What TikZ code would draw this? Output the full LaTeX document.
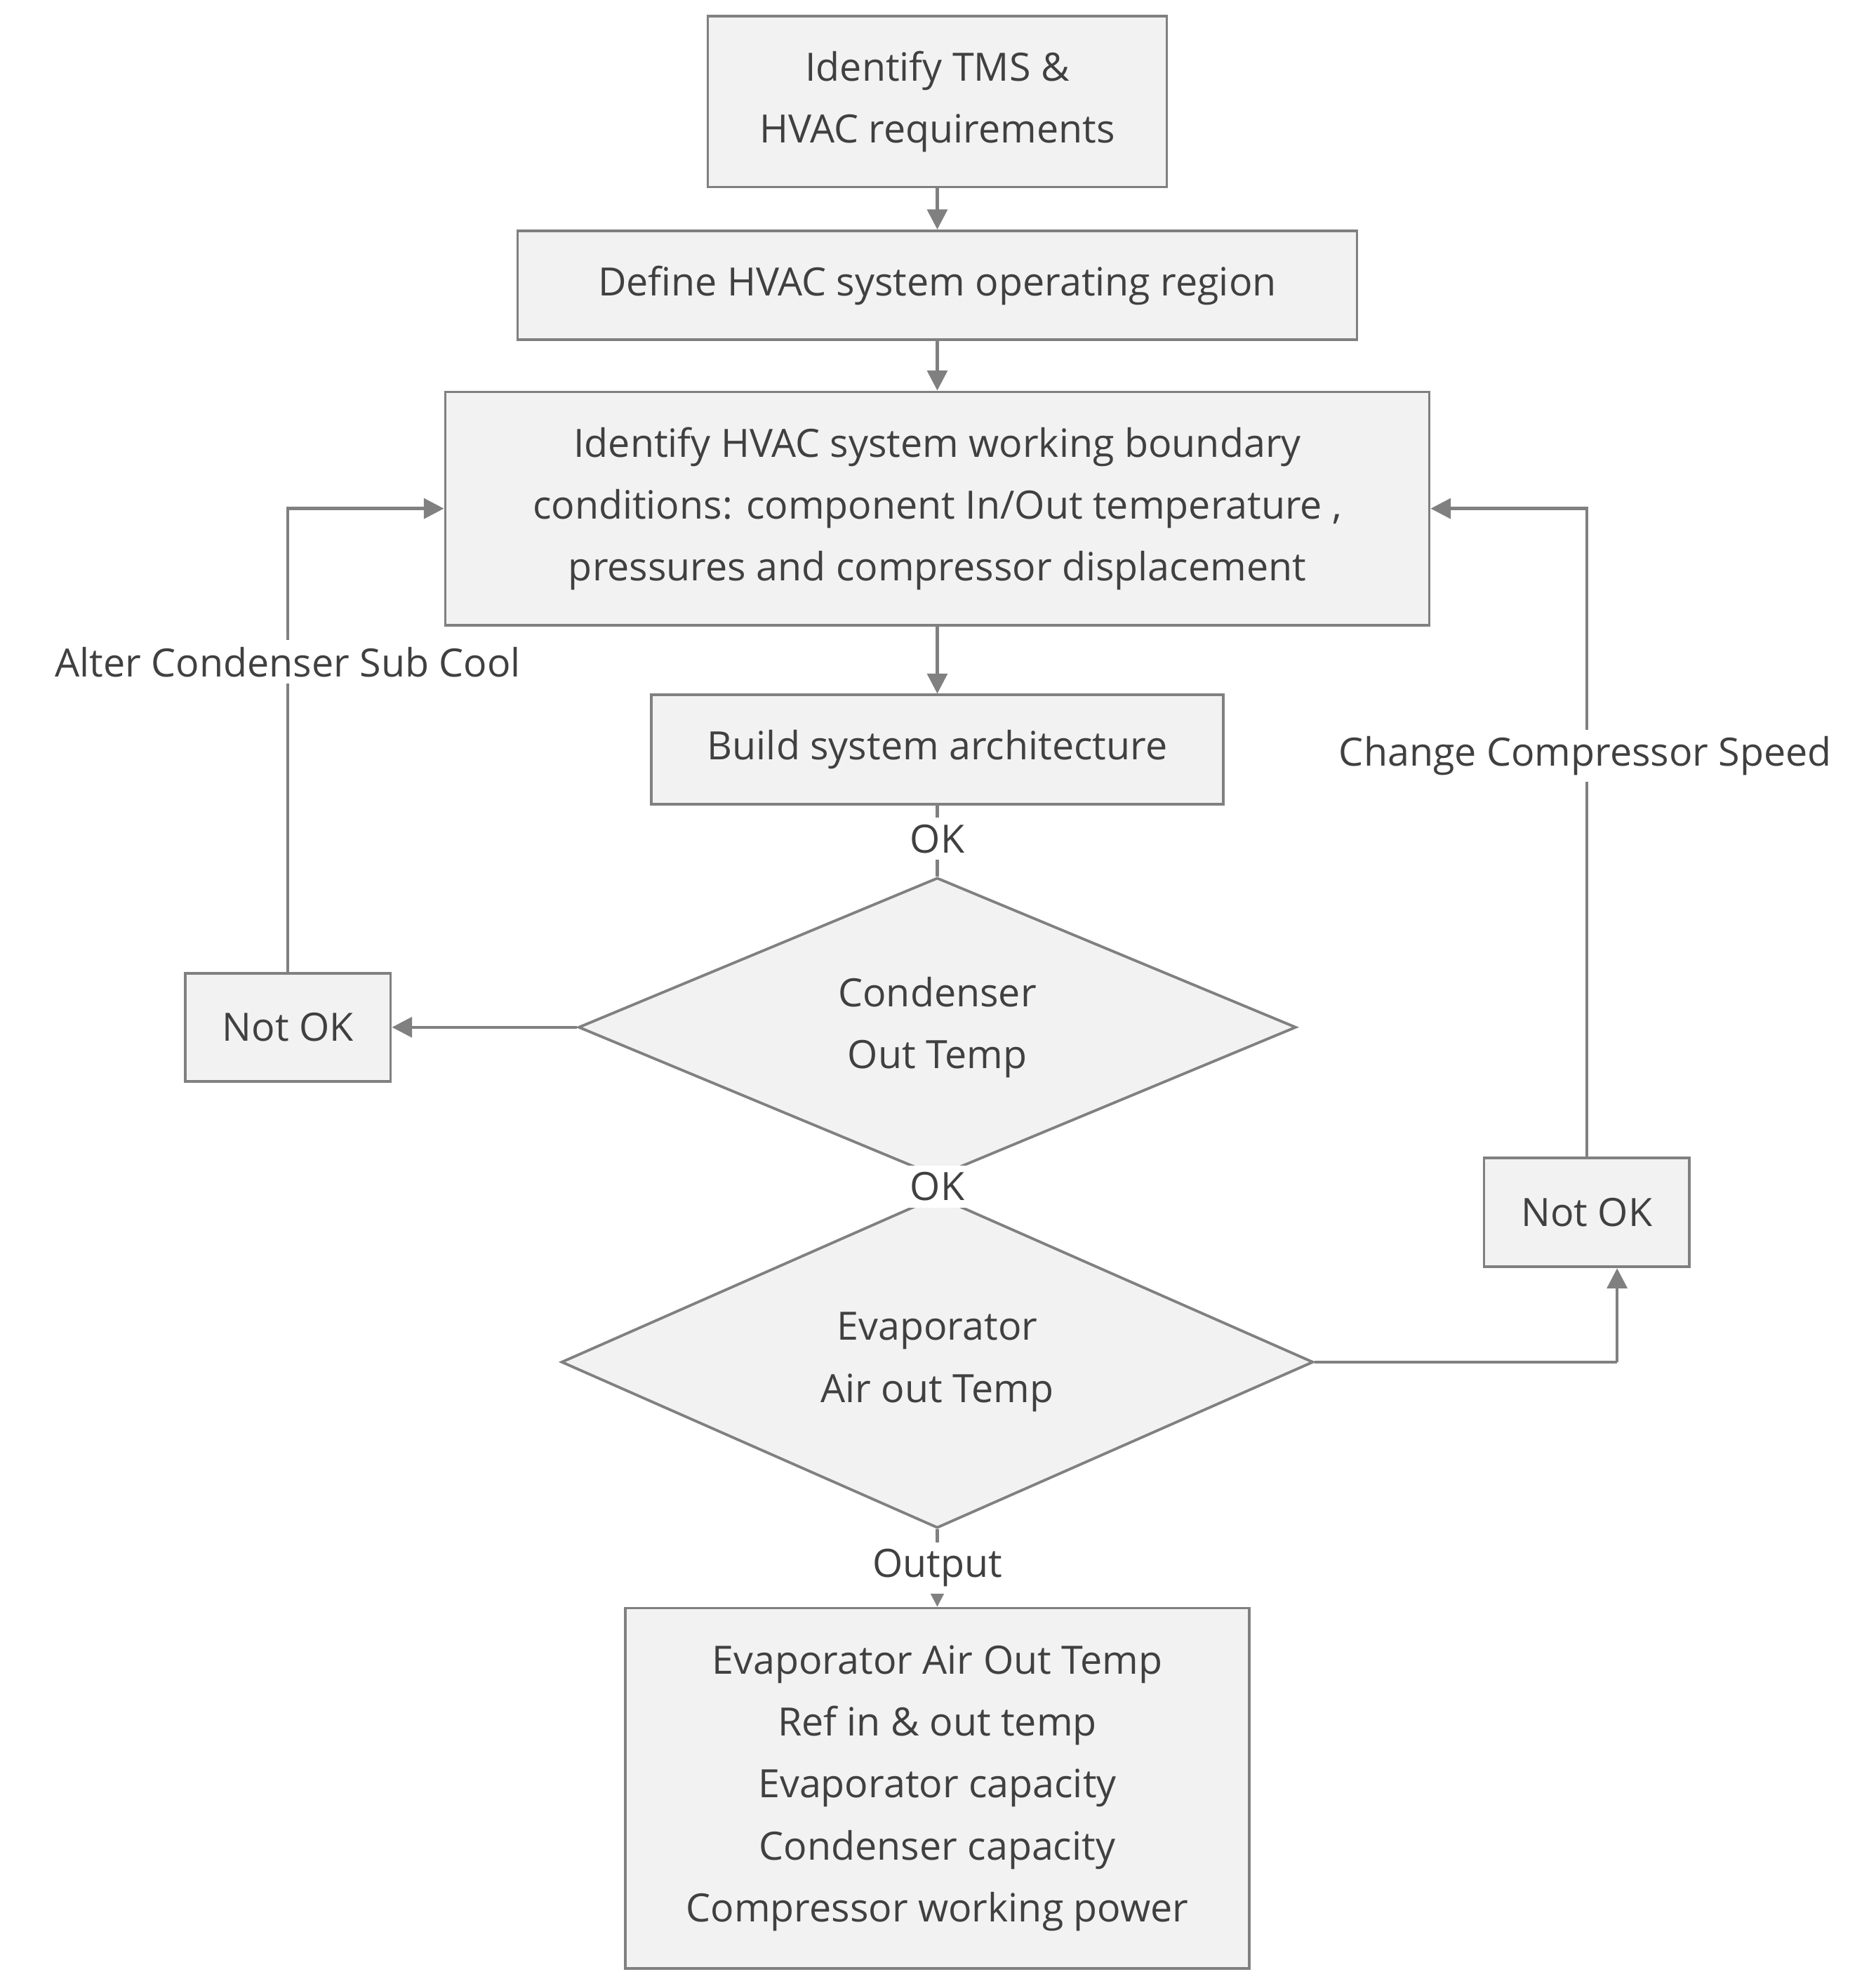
\documentclass[tikz,border=0pt]{standalone}
\usepackage{fontspec}
\setmainfont{Open Sans}
\usetikzlibrary{shapes.geometric,arrows.meta}
\definecolor{tx}{HTML}{404040}
\definecolor{ln}{HTML}{808080}
\definecolor{fl}{HTML}{F2F2F2}
\begin{document}
\begin{tikzpicture}[x=0.02cm,y=-0.02cm,
  every node/.style={text=tx,font=\fontsize{17.5}{27.8}\selectfont},
  box/.style={draw=ln,fill=fl,line width=1.2pt,align=center,inner sep=0pt},
  dia/.style={draw=ln,fill=fl,line width=1.2pt,align=center,diamond,inner sep=0pt},
  lab/.style={fill=white,inner sep=3pt},
  arr/.style={draw=ln,line width=1.4pt,-{Triangle[length=9pt,width=9pt]}},
  ln/.style={draw=ln,line width=1.4pt}]
\useasboundingbox (0,0) rectangle (1479,1566);
\node[box,minimum width=7.24cm,minimum height=2.7cm] (b1) at (739,80) {Identify TMS \&\\HVAC requirements};
\node[box,minimum width=13.24cm,minimum height=1.72cm] (b2) at (739,225) {Define HVAC system operating region};
\node[box,minimum width=15.52cm,minimum height=3.68cm] (b3) at (739,401) {Identify HVAC system working boundary\\conditions: component In/Out temperature ,\\pressures and compressor displacement};
\node[box,minimum width=9.02cm,minimum height=1.72cm] (b4) at (739,591) {Build system architecture};
\node[dia,minimum width=11.32cm,minimum height=4.12cm] (d1) at (739,810) {Condenser\\Out Temp};
\node[box,minimum width=3.24cm,minimum height=1.7cm] (n1) at (227,810) {Not OK};
\node[dia,minimum width=11.86cm,minimum height=4.28cm] (d2) at (739,1074) {Evaporator\\Air out Temp};
\node[box,minimum width=3.24cm,minimum height=1.72cm] (n2) at (1251,956) {Not OK};
\node[box,minimum width=9.84cm,minimum height=5.68cm] (b5) at (739,1410) {Evaporator Air Out Temp\\Ref in \& out temp\\Evaporator capacity\\Condenser capacity\\Compressor working power};
\draw[arr] (b1) -- (b2);
\draw[arr] (b2) -- (b3);
\draw[arr] (b3) -- (b4);
\draw[ln] (b4) -- (d1.north) node[lab,pos=0.47] (ok1) {OK};
\draw[ln] (d1) -- (d2.north) node[lab,pos=0.5] (ok2) {OK};
\draw[arr] (d2) -- (b5) node[lab,pos=0.5] (out) {Output};
\draw[arr] (d1.west) -- (n1.east);
\coordinate (c1) at (227,401);
\draw[arr] (n1.north) -- (c1) -- (b3.west);
\node[lab] (alt) at (227,522) {Alter Condenser Sub Cool};
\coordinate (c2) at (1275,1074);
\draw[ln] (d2.east) -- (c2);
\draw[arr] (c2) -- (n2.south -| c2);
\coordinate (c3) at (1251,401);
\draw[arr] (n2.north) -- (c3) -- (b3.east);
\node[lab] (chg) at (1250,596) {Change Compressor Speed};
\end{tikzpicture}
\end{document}
